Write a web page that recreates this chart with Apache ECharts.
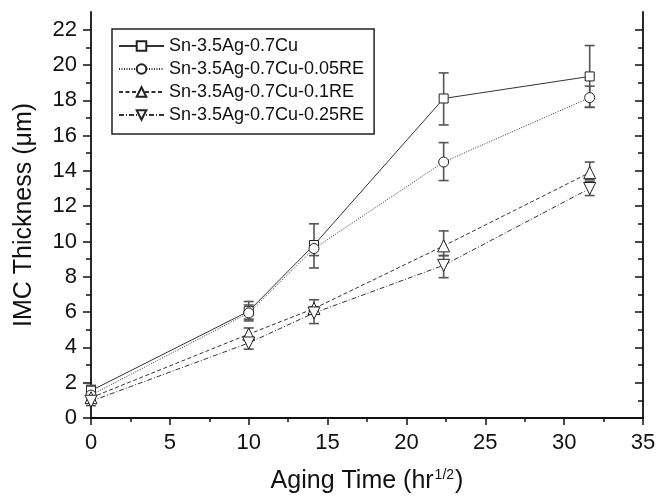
<!DOCTYPE html>
<html>
<head>
<meta charset="utf-8">
<script src="https://cdn.jsdelivr.net/npm/echarts@6/dist/echarts.min.js"></script>
<style>
html,body{margin:0;padding:0;background:#fff;}
#imc_chart{width:668px;height:501px;}
</style>
</head>
<body>
<div id="imc_chart"></div>
<script>
// aging time in hr^1/2 (0, 100, 200, 500, 1000 h)
var aging_time = [0, 10, 14.14, 22.36, 31.62];
var x_ticks = [0, 5, 10, 15, 20, 25, 30, 35];
var y_ticks = [0, 2, 4, 6, 8, 10, 12, 14, 16, 18, 20, 22];
var y_minor_ticks = [1, 3, 5, 7, 9, 11, 13, 15, 17, 19, 21];

var series_names = ['Sn-3.5Ag-0.7Cu', 'Sn-3.5Ag-0.7Cu-0.05RE', 'Sn-3.5Ag-0.7Cu-0.1RE', 'Sn-3.5Ag-0.7Cu-0.25RE'];

var sac_values = [1.55, 6.05, 9.8, 18.1, 19.35];
var sac_low = [0.85, 5.6, 8.5, 16.6, 17.6];
var sac_high = [1.85, 6.6, 11.0, 19.55, 21.1];

var re005_values = [1.3, 5.95, 9.6, 14.5, 18.15];
var re005_low = [1.0, 5.5, 9.2, 13.45, 17.6];
var re005_high = [1.6, 6.4, 10.0, 15.6, 18.8];

var re01_values = [1.15, 4.75, 6.2, 9.75, 13.9];
var re01_low = [0.9, 4.4, 5.9, 9.2, 13.5];
var re01_high = [1.4, 5.1, 6.7, 10.6, 14.5];

var re025_values = [0.95, 4.25, 5.95, 8.65, 13.0];
var re025_low = [0.7, 3.9, 5.35, 7.95, 12.6];
var re025_high = [1.2, 4.6, 6.3, 9.2, 13.4];

var font = '"Liberation Sans", Arial, sans-serif';

function line_series(name, values, symbol, size, rotate, dash){
	return {
		name: name,
		type: 'line',
		data: aging_time.map(function(x, i){ return [x, values[i]]; }),
		symbol: symbol,
		symbolSize: size,
		symbolRotate: rotate,
		showAllSymbol: true,
		z: 3,
		itemStyle: {color: '#fff', borderColor: '#222', borderWidth: 1},
		lineStyle: {color: '#333', width: 1, type: dash},
		emphasis: {disabled: true}
	};
}

function error_series(low, high){
	return {
		type: 'custom',
		z: 1,
		silent: true,
		data: aging_time.map(function(x, i){ return [x, low[i], high[i]]; }),
		encode: {x: 0, y: [1, 2]},
		renderItem: function(params, api){
			var top = api.coord([api.value(0), api.value(2)]);
			var bot = api.coord([api.value(0), api.value(1)]);
			var w = 5;
			var st = {stroke: '#555', lineWidth: 1.6};
			return {type: 'group', children: [
				{type: 'line', shape: {x1: top[0], y1: top[1], x2: bot[0], y2: bot[1]}, style: st},
				{type: 'line', shape: {x1: top[0] - w, y1: top[1], x2: top[0] + w, y2: top[1]}, style: st},
				{type: 'line', shape: {x1: bot[0] - w, y1: bot[1], x2: bot[0] + w, y2: bot[1]}, style: st}
			]};
		}
	};
}

function y_axis(position, values, length, inside, labels){
	return {
		type: 'value', position: position, min: 0, max: 23,
		axisLine: {show: labels, lineStyle: {color: '#111', width: 1.8}},
		axisTick: {show: true, inside: inside, length: length, customValues: values, lineStyle: {color: '#111', width: 1.5}},
		axisLabel: {show: labels && position == 'left', customValues: y_ticks, fontSize: 22, color: '#111', fontFamily: font, margin: 14},
		splitLine: {show: false},
		name: labels && position == 'left' ? 'IMC Thickness (\u03bcm)' : '',
		nameLocation: 'middle',
		nameGap: 54,
		nameTextStyle: {fontSize: 25, color: '#111', fontFamily: font}
	};
}

var chart = echarts.init(document.getElementById('imc_chart'));
var option = {
	animation: false,
	backgroundColor: '#fff',
	grid: {left: 91, right: 25, top: 12, bottom: 83, containLabel: false},
	legend: {
		data: series_names,
		left: 112, top: 29,
		orient: 'vertical',
		itemWidth: 45, itemHeight: 12, itemGap: 5,
		padding: [8, 10, 10, 6],
		borderColor: '#222', borderWidth: 1.5,
		selectedMode: false,
		textStyle: {fontSize: 18, color: '#111', fontFamily: font}
	},
	xAxis: [
		{
			type: 'value', position: 'bottom', min: 0, max: 35, interval: 5,
			axisLine: {lineStyle: {color: '#111', width: 1.8}},
			axisTick: {inside: false, length: 7, lineStyle: {color: '#111', width: 1.5}},
			minorTick: {show: true, splitNumber: 2, length: 4, lineStyle: {color: '#111', width: 1.5}},
			axisLabel: {customValues: x_ticks, fontSize: 22, color: '#111', fontFamily: font, margin: 14},
			splitLine: {show: false},
			name: 'Aging Time (hr{sup|1/2})',
			nameLocation: 'middle',
			nameGap: 50,
			nameTextStyle: {fontSize: 25, color: '#111', fontFamily: font,
				rich: {sup: {fontSize: 14, verticalAlign: 'top', color: '#111', fontFamily: font, padding: [0, 1, 12, 1]}}}
		},
		{
			type: 'value', position: 'top', min: 0, max: 35, interval: 5,
			axisLine: {lineStyle: {color: '#111', width: 1.8}},
			axisTick: {inside: true, length: 7, lineStyle: {color: '#111', width: 1.5}},
			minorTick: {show: true, splitNumber: 2, length: 4, lineStyle: {color: '#111', width: 1.5}},
			axisLabel: {show: false},
			splitLine: {show: false}
		}
	],
	yAxis: [
		y_axis('left', y_ticks, 8, false, true),
		y_axis('left', y_minor_ticks, 5, false, false),
		y_axis('right', y_ticks, 8, true, true),
		y_axis('right', y_minor_ticks, 5, true, false)
	],
	series: [
		error_series(sac_low, sac_high),
		error_series(re005_low, re005_high),
		error_series(re01_low, re01_high),
		error_series(re025_low, re025_high),
		line_series(series_names[0], sac_values, 'rect', 9, 0, 'solid'),
		line_series(series_names[1], re005_values, 'circle', 10, 0, [1, 1.5]),
		line_series(series_names[2], re01_values, 'triangle', 12, 0, [4, 2.5]),
		line_series(series_names[3], re025_values, 'triangle', 12, 180, [5, 2, 1, 2])
	]
};
chart.setOption(option);
window.addEventListener("resize", function(){
	chart.resize();
});
</script>
</body>
</html>
